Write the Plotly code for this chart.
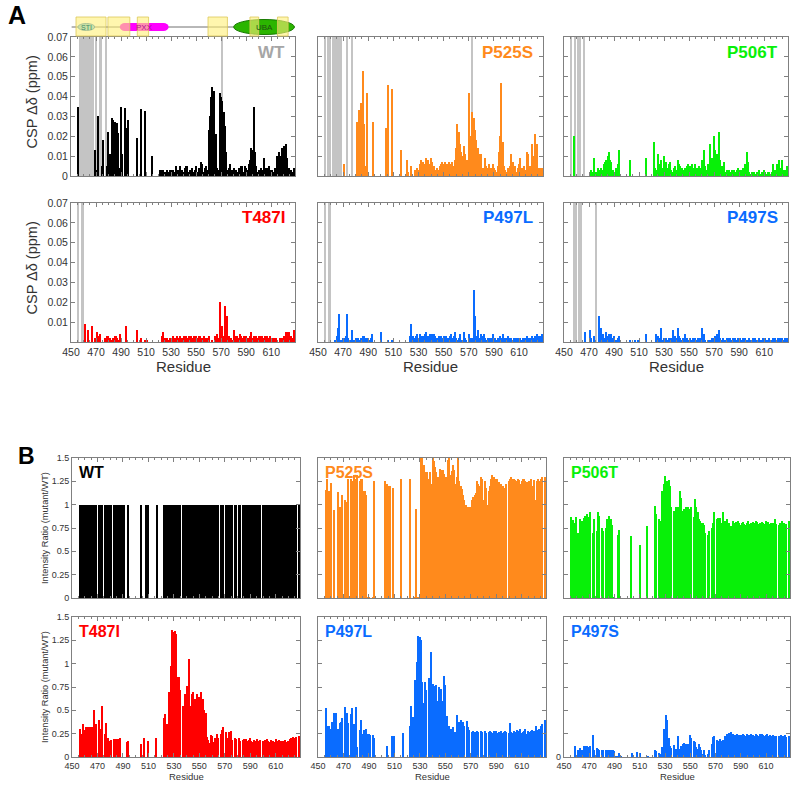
import plotly.graph_objects as go

# ---------------- data ----------------
residues = list(range(456, 629))  # 173 residues

# Panel A: chemical shift perturbation (ppm)
csp_wt = [
    0.035, 0, 0, 0, 0, 0, 0, 0, 0, 0,
    0, 0, 0, 0.013, 0, 0.003, 0.030, 0, 0, 0.005,
    0.018, 0, 0, 0.005, 0.022, 0.011, 0, 0.029, 0.028, 0.027,
    0.026, 0.0265, 0.0215, 0.004, 0.035, 0.011, 0, 0.034, 0.024, 0,
    0.028, 0, 0, 0, 0, 0, 0, 0.019, 0, 0,
    0.0335, 0, 0, 0.0325, 0, 0, 0, 0, 0, 0.010,
    0, 0, 0, 0, 0, 0.003, 0.003, 0.002, 0.003, 0.002,
    0.001, 0.003, 0.002, 0.003, 0.003, 0.002, 0.003, 0.002, 0.005, 0.002,
    0.003, 0.005, 0.002, 0.003, 0.002, 0.004, 0.005, 0.005, 0.002, 0.003,
    0.003, 0.004, 0.002, 0.003, 0.005, 0.002, 0.004, 0.003, 0.007, 0.006,
    0.002, 0.004, 0.005, 0.003, 0.023, 0.030, 0.040, 0.045, 0.043, 0.013,
    0.021, 0.004, 0.003, 0.042, 0.040, 0.038, 0.032, 0.025, 0.012, 0.003,
    0.004, 0.006, 0.002, 0.003, 0.004, 0.002, 0.003, 0.002, 0.004, 0.003,
    0.005, 0.005, 0.002, 0.005, 0.004, 0.003, 0.006, 0.008, 0.014, 0.013,
    0.035, 0.012, 0.005, 0.002, 0.003, 0.002, 0.004, 0.003, 0.009, 0.004,
    0.002, 0.004, 0.005, 0.003, 0.002, 0.003, 0.002, 0.004, 0.003, 0.010,
    0.012, 0.008, 0.010, 0.014, 0.015, 0.009, 0.016, 0.009, 0.004, 0.002,
    0.003, 0.002, 0.004,
]
csp_p525s = [
    0, 0, 0, 0, 0, 0, 0, 0, 0, 0,
    0, 0, 0, 0, 0, 0.006, 0, 0, 0, 0,
    0, 0, 0, 0, 0, 0.027, 0.015, 0.033, 0.037, 0.037,
    0.053, 0.026, 0.005, 0.042, 0, 0, 0, 0, 0.027, 0,
    0, 0, 0, 0, 0, 0, 0, 0, 0.024, 0,
    0.046, 0, 0, 0.044, 0, 0, 0, 0, 0, 0,
    0.013, 0, 0, 0, 0, 0.008, 0.002, 0, 0.005, 0,
    0, 0.003, 0, 0.004, 0.003, 0.006, 0.008, 0.005, 0.007, 0.006,
    0.009, 0.007, 0.008, 0.006, 0.009, 0.007, 0.005, 0.003, 0.002, 0.004,
    0.003, 0.005, 0.006, 0.007, 0.006, 0.007, 0.005, 0.006, 0.007, 0.004,
    0.006, 0.007, 0.005, 0.008, 0.014, 0.026, 0.022, 0.016, 0.012, 0.010,
    0.015, 0.011, 0.006, 0.008, 0.042, 0.020, 0.020, 0.032, 0.029, 0.023,
    0.018, 0.014, 0.011, 0.009, 0.011, 0.004, 0.003, 0.009, 0.005, 0.004,
    0.006, 0.003, 0.004, 0.006, 0.004, 0.003, 0.002, 0.005, 0.012, 0.020,
    0.047, 0.017, 0.005, 0.003, 0.002, 0.004, 0.003, 0.005, 0.011, 0.007,
    0.003, 0.005, 0.002, 0.004, 0.006, 0.009, 0.004, 0.002, 0.005, 0.003,
    0.012, 0.011, 0.003, 0.005, 0.016, 0.010, 0.005, 0.021, 0.016, 0.004,
    0.003, 0.004, 0.004,
]
csp_p506t = [
    0, 0, 0.020, 0, 0, 0, 0, 0, 0, 0,
    0, 0, 0, 0, 0, 0.002, 0.003, 0.002, 0.009, 0.001,
    0.002, 0.004, 0.003, 0.001, 0.004, 0.003, 0.006, 0.007, 0.008, 0.010,
    0.012, 0.008, 0.007, 0.003, 0.002, 0, 0.004, 0.006, 0.013, 0,
    0, 0, 0, 0, 0, 0, 0, 0.008, 0, 0,
    0, 0, 0, 0, 0, 0, 0, 0, 0, 0,
    0.009, 0, 0, 0, 0, 0, 0.017, 0.004, 0.003, 0.011,
    0.005, 0.006, 0.008, 0.004, 0.010, 0.005, 0.007, 0.004, 0.006, 0.007,
    0.003, 0.002, 0.004, 0.005, 0.003, 0.008, 0.006, 0.005, 0.004, 0.003,
    0.003, 0.004, 0.005, 0.006, 0.004, 0.005, 0.006, 0.004, 0.003, 0.006,
    0.004, 0.003, 0.005, 0.004, 0.008, 0.006, 0.013, 0.005, 0.003, 0.006,
    0.006, 0.016, 0.009, 0.007, 0.020, 0.013, 0.011, 0.009, 0.022, 0.008,
    0.005, 0.004, 0.007, 0.002, 0.003, 0.002, 0.003, 0.002, 0.003, 0.002,
    0.003, 0.002, 0.003, 0.004, 0.002, 0.003, 0.003, 0.004, 0.004, 0.006,
    0.012, 0.007, 0.002, 0.001, 0.002, 0.001, 0.002, 0.001, 0.002, 0.002,
    0.003, 0.001, 0.002, 0.002, 0.003, 0.002, 0.001, 0.002, 0.002, 0.001,
    0.002, 0.006, 0.002, 0.003, 0.006, 0.002, 0.008, 0.004, 0.008, 0.003,
    0.002, 0.003, 0.005,
]
csp_t487i = [
    0, 0, 0, 0, 0, 0.009, 0, 0, 0.006, 0,
    0, 0.008, 0, 0.002, 0, 0.005, 0.003, 0.004, 0, 0,
    0, 0.002, 0.002, 0.003, 0.003, 0.002, 0, 0.001, 0.002, 0.003,
    0.003, 0.002, 0.001, 0.004, 0, 0, 0, 0, 0.008, 0,
    0, 0, 0, 0, 0, 0, 0, 0.006, 0, 0,
    0.002, 0, 0, 0.001, 0, 0.001, 0, 0, 0, 0,
    0, 0, 0, 0, 0, 0, 0, 0.003, 0.005, 0.002,
    0.002, 0.002, 0.001, 0.002, 0.002, 0.002, 0.003, 0.002, 0.002, 0.003,
    0.002, 0.003, 0.002, 0.002, 0.003, 0.002, 0.003, 0.002, 0.003, 0.002,
    0.003, 0.002, 0.003, 0.002, 0.003, 0.002, 0.003, 0.003, 0.002, 0.002,
    0.003, 0.002, 0, 0.002, 0.003, 0, 0, 0.001, 0, 0.003,
    0, 0.004, 0.002, 0.020, 0.002, 0.008, 0.003, 0.018, 0.003, 0.013,
    0.003, 0, 0.002, 0.001, 0.006, 0.002, 0.003, 0.003, 0.002, 0.004,
    0.003, 0.002, 0.003, 0.002, 0.003, 0.002, 0.002, 0.003, 0.005, 0.002,
    0.003, 0.002, 0.003, 0.002, 0.003, 0.002, 0.003, 0.003, 0.002, 0.003,
    0.002, 0.003, 0.002, 0.003, 0.002, 0.002, 0.002, 0.001, 0.002, 0.001,
    0, 0.002, 0.001, 0.002, 0.003, 0.003, 0.005, 0.005, 0.005, 0.002,
    0.003, 0.002, 0.006,
]
csp_p497l = [
    0, 0, 0, 0, 0, 0, 0, 0, 0.001, 0.003,
    0.007, 0.014, 0.001, 0, 0.002, 0.002, 0.003, 0.014, 0.002, 0,
    0.001, 0.006, 0, 0.001, 0.002, 0.001, 0.002, 0.001, 0.002, 0.002,
    0.003, 0.003, 0.002, 0.001, 0.002, 0.001, 0.002, 0.004, 0, 0,
    0, 0, 0, 0, 0.005, 0, 0, 0, 0, 0,
    0.001, 0, 0, 0.001, 0, 0, 0, 0, 0, 0,
    0, 0, 0, 0, 0, 0, 0, 0.003, 0.009, 0.002,
    0.003, 0.002, 0.003, 0.004, 0.002, 0.004, 0.003, 0.002, 0.003, 0.004,
    0.005, 0.002, 0.003, 0.004, 0.002, 0.004, 0.004, 0.003, 0.002, 0.002,
    0.003, 0.002, 0.003, 0.002, 0.003, 0.002, 0.003, 0.002, 0.002, 0.003,
    0.004, 0.002, 0.003, 0.005, 0.002, 0.001, 0.002, 0.004, 0.001, 0,
    0.005, 0.002, 0.001, 0, 0.004, 0.002, 0.001, 0.002, 0.026, 0.013,
    0.003, 0.006, 0.002, 0.001, 0.004, 0.003, 0.004, 0.002, 0.001, 0.002,
    0.001, 0.002, 0.002, 0.004, 0.002, 0.002, 0.001, 0.002, 0.002, 0.003,
    0.002, 0.004, 0.002, 0.001, 0.002, 0.003, 0.002, 0.001, 0.002, 0.001,
    0.002, 0.001, 0.002, 0.002, 0.001, 0.002, 0.001, 0.002, 0.001, 0.002,
    0.003, 0.001, 0.002, 0.002, 0.003, 0.001, 0.002, 0.003, 0.004, 0.003,
    0.002, 0.003, 0.004,
]
csp_p497s = [
    0, 0, 0, 0, 0, 0, 0, 0, 0, 0,
    0, 0.005, 0, 0, 0, 0.006, 0.002, 0, 0.003, 0,
    0, 0, 0.013, 0, 0.007, 0.004, 0.002, 0.002, 0.005, 0.003,
    0.004, 0.003, 0.004, 0.002, 0.003, 0.001, 0.001, 0.002, 0.003, 0,
    0, 0, 0, 0, 0, 0, 0, 0.001, 0, 0,
    0, 0.001, 0, 0.001, 0, 0, 0, 0, 0, 0,
    0.004, 0, 0, 0, 0, 0, 0, 0, 0.004, 0.003,
    0, 0.002, 0.007, 0.001, 0.002, 0.001, 0.002, 0.001, 0.002, 0.001,
    0.002, 0.006, 0.002, 0.003, 0.002, 0.007, 0.003, 0.002, 0.001, 0.002,
    0.002, 0.004, 0.002, 0.001, 0.001, 0.002, 0.001, 0.002, 0.001, 0.002,
    0.001, 0.002, 0.001, 0.002, 0.007, 0.003, 0.004, 0.001, 0, 0,
    0.001, 0.001, 0.002, 0.001, 0.002, 0.003, 0.004, 0.002, 0.006, 0.002,
    0.001, 0.002, 0.001, 0.001, 0.002, 0.001, 0.002, 0.002, 0.001, 0.002,
    0.001, 0.002, 0.001, 0.002, 0.001, 0.002, 0.001, 0.002, 0.001, 0.002,
    0.001, 0.001, 0.002, 0.001, 0.001, 0.002, 0.001, 0.002, 0.001, 0.001,
    0.002, 0.001, 0.001, 0.002, 0.001, 0.002, 0.001, 0.001, 0.002, 0.001,
    0.001, 0.002, 0.001, 0.002, 0.001, 0.002, 0.001, 0.002, 0.002, 0.001,
    0.001, 0.002, 0.002,
]

# residues drawn as full-height grey bars (unassigned / broadened)
gray_wt = [457, 459, 460, 461, 463, 464, 465, 466, 467, 468, 470, 473, 474, 478, 571]
gray_p525s = [456, 458, 459, 460, 462, 463, 464, 465, 466, 467, 468, 473, 477, 573]
gray_p506t = [456, 459, 461, 463, 466]
gray_t487i = [456, 459, 460]
gray_p497l = [456, 459, 460]
gray_p497s = [458, 460, 462, 464, 476]
CSP_FULL = 0.07

# Panel B: intensity ratio (mutant/WT)
ratio_wt = [
    1, 1, 0, 1, 1, 1, 0, 1, 1, 0,
    1, 1, 1, 1, 0, 1, 0, 1, 1, 0,
    1, 1, 1, 0, 1, 1, 0, 1, 1, 1,
    1, 1, 1, 1, 1, 1, 0, 0, 1, 0,
    0, 0, 0, 0, 0, 0, 0, 0, 1, 0,
    0, 0, 1, 0, 1, 0, 0, 0, 0, 0,
    0, 1, 0, 0, 0, 0, 1, 1, 0, 1,
    1, 0, 1, 1, 1, 1, 1, 1, 1, 1,
    0, 1, 0, 1, 1, 0, 1, 1, 1, 1,
    0, 1, 1, 1, 1, 1, 0, 1, 1, 1,
    1, 1, 1, 1, 1, 1, 1, 0, 1, 1,
    0, 1, 1, 1, 0, 1, 1, 1, 1, 1,
    1, 0, 1, 1, 0, 1, 1, 0, 1, 1,
    1, 1, 1, 1, 1, 1, 1, 1, 1, 1,
    1, 1, 1, 0, 1, 1, 1, 1, 1, 1,
    1, 1, 1, 1, 1, 1, 1, 1, 1, 1,
    1, 1, 1, 0, 1, 1, 1, 1, 1, 1,
    1, 0, 1,
]
ratio_p525s = [
    1.16, 1.28, 0, 1.15, 1.23, 0, 0, 0.94, 0, 0,
    1.14, 0.97, 0.93, 1.10, 0, 1.05, 0, 1.03, 1.28, 0,
    1.28, 1.25, 1.32, 0, 1.27, 1.32, 0, 1.25, 1.28, 1.27,
    1.15, 1.15, 1.10, 0.01, 0.01, 0, 0, 0.01, 1.25, 0,
    0, 0, 0, 0, 0, 0, 0, 1.25, 1.22, 0,
    1.20, 1.20, 0, 1.18, 0, 0, 0, 0, 0, 1.28,
    0, 0, 0, 0, 0, 0, 1.28, 0, 0, 0,
    0.01, 0.95, 0.01, 0.01, 0.01, 1.50, 1.50, 1.42, 1.35, 1.33,
    1.35, 1.28, 1.35, 1.22, 1.50, 1.47, 1.40, 1.35, 1.30, 1.22,
    1.38, 1.37, 1.37, 1.33, 1.30, 1.30, 1.48, 1.50, 1.32, 1.36,
    1.42, 1.37, 1.22, 1.30, 1.50, 1.25, 1.20, 1.17, 1.10, 1.05,
    1.00, 0.98, 0.98, 0.98, 0.98, 1.05, 1.08, 1.10, 1.12, 1.25,
    1.22, 1.20, 1.30, 1.27, 1.05, 1.25, 1.18, 1.00, 1.15, 1.20,
    1.28, 1.32, 1.30, 1.27, 1.25, 1.27, 1.24, 1.20, 1.22, 1.20,
    1.18, 1.15, 1.22, 0, 1.25, 1.28, 1.30, 1.27, 1.28, 1.26,
    1.25, 1.28, 1.26, 1.22, 1.25, 1.27, 1.28, 1.25, 1.24, 1.22,
    1.25, 1.27, 1.20, 0, 1.26, 1.05, 1.25, 1.27, 1.25, 1.28,
    1.30, 0, 1.30,
]
ratio_p506t = [
    0.87, 0.84, 0, 0.80, 0.87, 0.70, 0, 0.85, 0.82, 0,
    0.86, 0.88, 0.90, 0.87, 0, 0.92, 0, 0.70, 0.85, 0,
    0.72, 0.92, 0.88, 0, 0.75, 0.72, 0, 0.75, 0.85, 0.80,
    0.88, 0.85, 0.78, 0.01, 0.01, 0, 0, 0.68, 0.73, 0,
    0, 0, 0, 0, 0, 0, 0, 0.66, 0, 0,
    0, 0, 0, 0, 0.57, 0, 0, 0, 0, 0,
    0.77, 0, 0, 0, 0, 0, 0.99, 0.90, 0, 0.85,
    0.83, 0, 1.15, 1.22, 1.31, 1.23, 1.25, 1.26, 1.20, 0.98,
    0, 0.93, 0, 0.98, 0.97, 0, 1.15, 1.07, 0.93, 0.95,
    0, 0.97, 0.97, 0.93, 0.95, 0.97, 0, 0.87, 1.06, 0.98,
    0.92, 0.85, 0.83, 0.80, 0.80, 0.78, 0.70, 0, 0.68, 0.72,
    0, 0.75, 0.80, 0.92, 0, 0.85, 0.86, 0.84, 0.86, 0.80,
    0.92, 0, 0.83, 0.85, 0, 0.80, 0.77, 0, 0.82, 0.80,
    0.81, 0.79, 0.82, 0.80, 0.78, 0.80, 0.81, 0.79, 0.78, 0.80,
    0.82, 0.79, 0.80, 0, 0.81, 0.80, 0.82, 0.81, 0.79, 0.80,
    0.78, 0.81, 0.80, 0.79, 0.82, 0.80, 0.81, 0.79, 0.80, 0.77,
    0.80, 0.85, 0.79, 0, 0.78, 0.80, 0.79, 0.82, 0.80, 0.78,
    0.79, 0, 0.83,
]
ratio_t487i = [
    0.30, 0.25, 0, 0.35, 0.29, 0.32, 0, 0.32, 0.32, 0,
    0.32, 0.50, 0.32, 0.35, 0, 0.40, 0, 0.30, 0.55, 0,
    0.25, 0.36, 0.20, 0, 0.17, 0.18, 0, 0.19, 0.18, 0.19,
    0.19, 0.05, 0.20, 0, 0, 0, 0, 0.16, 0.17, 0.01,
    0, 0, 0, 0, 0, 0, 0, 0, 0.14, 0,
    0, 0.20, 0, 0, 0.17, 0, 0, 0, 0, 0,
    0.20, 0, 0, 0, 0, 0, 0.42, 0.46, 0, 0.35,
    0.70, 0, 0.97, 1.36, 1.34, 1.35, 1.32, 0.86, 0.86, 0.72,
    0, 0.55, 0, 0.67, 0.76, 0, 1.05, 0.55, 0.67, 0.70,
    0, 0.62, 0.68, 0.60, 0.64, 0.70, 0, 0.62, 0.50, 0.47,
    0.21, 0.18, 0.15, 0.24, 0.22, 0.16, 0.20, 0, 0.25, 0.20,
    0, 0.25, 0.29, 0.32, 0, 0.27, 0.20, 0.27, 0.25, 0.28,
    0.18, 0, 0.20, 0.19, 0, 0.20, 0.17, 0, 0.18, 0.19,
    0.18, 0.19, 0.17, 0.18, 0.20, 0.17, 0.16, 0.18, 0.17, 0.19,
    0.16, 0.17, 0.18, 0, 0.17, 0.16, 0.18, 0.19, 0.17, 0.16,
    0.18, 0.16, 0.17, 0.16, 0.19, 0.17, 0.16, 0.18, 0.17, 0.16,
    0.17, 0.18, 0.16, 0, 0.17, 0.19, 0.20, 0.18, 0.21, 0.20,
    0.21, 0, 0.22,
]
ratio_p497l = [
    0.53, 0.33, 0, 0.33, 0.30, 0.38, 0, 0.47, 0.47, 0,
    0.30, 0.36, 0.38, 0.42, 0, 0.54, 0, 0.47, 0.36, 0,
    0.46, 0.52, 0.35, 0, 0.54, 0.11, 0, 0.29, 0.40, 0.25,
    0.29, 0.29, 0.30, 0.25, 0.25, 0.24, 0, 0.24, 0.20, 0.01,
    0, 0, 0, 0, 0, 0, 0, 0, 0.12, 0,
    0, 0, 0.22, 0, 0.23, 0, 0, 0, 0, 0,
    0, 0.26, 0, 0, 0, 0, 0.33, 0.55, 0, 0.43,
    0.83, 0, 1.02, 1.30, 1.29, 1.25, 0.80, 0.58, 0.80, 0.72,
    0, 0.85, 0, 1.13, 0.78, 0, 0.76, 0.77, 0.60, 0.75,
    0, 0.73, 0.60, 0.87, 0.77, 0.44, 0, 0.33, 0.30, 0.30,
    0.32, 0.20, 0.27, 0.45, 0.35, 0.37, 0.40, 0, 0.37, 0.33,
    0, 0.39, 0.32, 0.29, 0, 0.27, 0.28, 0.27, 0.26, 0.28,
    0.27, 0, 0.28, 0.27, 0, 0.28, 0.26, 0, 0.27, 0.28,
    0.27, 0.26, 0.28, 0.27, 0.28, 0.26, 0.27, 0.27, 0.28, 0.26,
    0.27, 0.28, 0.27, 0, 0.26, 0.36, 0.27, 0.26, 0.28, 0.27,
    0.29, 0.27, 0.28, 0.30, 0.26, 0.27, 0.28, 0.30, 0.25, 0.28,
    0.27, 0.28, 0.29, 0, 0.28, 0.33, 0.28, 0.29, 0.30, 0.33,
    0.35, 0, 0.40,
]
ratio_p497s = [
    0, 0, 0, 0.12, 0, 0.07, 0, 0.10, 0.07, 0,
    0.12, 0.12, 0.12, 0.11, 0, 0.12, 0, 0.24, 0.08, 0,
    0.10, 0.09, 0.08, 0, 0.08, 0.07, 0, 0.07, 0.08, 0.07,
    0.07, 0.08, 0.07, 0.08, 0.06, 0.01, 0, 0.01, 0.04, 0.01,
    0, 0, 0, 0, 0, 0, 0, 0, 0.04, 0,
    0, 0, 0.05, 0, 0.04, 0, 0, 0, 0, 0,
    0, 0.01, 0, 0, 0, 0, 0.07, 0.06, 0, 0.04,
    0.03, 0, 0.11, 0.30, 0.28, 0.45, 0.40, 0.20, 0.12, 0.10,
    0, 0.13, 0, 0.09, 0.22, 0, 0.09, 0.12, 0.14, 0.15,
    0, 0.14, 0.14, 0.13, 0.24, 0.20, 0, 0.17, 0.16, 0.11,
    0.09, 0.14, 0.11, 0.08, 0.03, 0.07, 0.02, 0, 0.03, 0.07,
    0, 0.14, 0.21, 0.22, 0, 0.18, 0.17, 0.16, 0.19, 0.17,
    0.18, 0, 0.22, 0.25, 0, 0.26, 0.27, 0, 0.25, 0.24,
    0.24, 0.25, 0.23, 0.24, 0.24, 0.23, 0.25, 0.24, 0.23, 0.25,
    0.23, 0.24, 0.25, 0, 0.24, 0.23, 0.25, 0.24, 0.23, 0.25,
    0.24, 0.25, 0.24, 0.23, 0.24, 0.25, 0.23, 0.24, 0.22, 0.23,
    0.24, 0.23, 0.22, 0, 0.23, 0.22, 0.24, 0.22, 0.23, 0.24,
    0.21, 0, 0.22,
]

# tick labels
x_tick_vals = [450, 470, 490, 510, 530, 550, 570, 590, 610]
x_tick_text = ["450", "470", "490", "510", "530", "550", "570", "590", "610"]
csp_tick_vals = [0, 0.01, 0.02, 0.03, 0.04, 0.05, 0.06, 0.07]
csp_tick_text_top = ["0", "0.01", "0.02", "0.03", "0.04", "0.05", "0.06", "0.07"]
csp_tick_text_bottom = ["", "0.01", "0.02", "0.03", "0.04", "0.05", "0.06", "0.07"]
ratio_tick_vals = [0, 0.25, 0.5, 0.75, 1, 1.25, 1.5]
ratio_tick_text = ["0", "0.25", "0.5", "0.75", "1", "1.25", "1.5"]

# domain schematic (residue numbers)
domain_names = ["STI", "PXX", "UBA"]
domain_start = [455.5, 489, 580]
domain_end = [469, 528, 628.5]
highlight_start = [454, 479.5, 503, 559.5, 593, 615]
highlight_end = [478, 497, 512, 575, 600, 623.5]

# ---------------- style ----------------
FONT = "Liberation Sans, Arial, Helvetica, sans-serif"
W, H = 800, 786
ORANGE = "#ff8a1c"
GREEN = "#08f008"
RED = "#ff0000"
BLUE = "#0a6cff"
GRAY_BAR = "#c4c4c4"
AX = "#808080"

def dx(a, b):
    return [a / W, b / W]

def dy(top, bottom):
    return [1 - bottom / H, 1 - top / H]

colsA = [(71, 295), (318, 543), (564, 788)]
rowsA = [(37, 176), (203, 342)]
colsB = [(72, 300), (318, 546), (564, 790)]
rowsB = [(458, 598), (617, 757)]

panels = [
    # name, values, gray, color, label color, section, row, col
    ("WT", csp_wt, gray_wt, "#000000", "#a6a6a6", "A", 0, 0),
    ("P525S", csp_p525s, gray_p525s, ORANGE, ORANGE, "A", 0, 1),
    ("P506T", csp_p506t, gray_p506t, GREEN, GREEN, "A", 0, 2),
    ("T487I", csp_t487i, gray_t487i, RED, RED, "A", 1, 0),
    ("P497L", csp_p497l, gray_p497l, BLUE, BLUE, "A", 1, 1),
    ("P497S", csp_p497s, gray_p497s, BLUE, BLUE, "A", 1, 2),
    ("WT", ratio_wt, None, "#000000", "#000000", "B", 0, 0),
    ("P525S", ratio_p525s, None, ORANGE, ORANGE, "B", 0, 1),
    ("P506T", ratio_p506t, None, GREEN, GREEN, "B", 0, 2),
    ("T487I", ratio_t487i, None, RED, RED, "B", 1, 0),
    ("P497L", ratio_p497l, None, BLUE, BLUE, "B", 1, 1),
    ("P497S", ratio_p497s, None, BLUE, BLUE, "B", 1, 2),
]

fig = go.Figure()
layout = dict(
    width=W, height=H, autosize=False,
    margin=dict(l=0, r=0, t=0, b=0, pad=0, autoexpand=False),
    paper_bgcolor="white", plot_bgcolor="white", showlegend=False,
    barmode="overlay", bargap=0, font=dict(family=FONT, color="#222"),
)
annotations = []
shapes = []

for i, (name, vals, gray, color, lcolor, sec, r, c) in enumerate(panels, start=1):
    xa, ya = "x%d" % i, "y%d" % i
    if sec == "A":
        cx, ry = colsA[c], rowsA[r]
        yr = [0, 0.07]
        tv = csp_tick_vals
        tt = csp_tick_text_top if r == 0 else csp_tick_text_bottom
        tfs = 10.5
    else:
        cx, ry = colsB[c], rowsB[r]
        yr = [0, 1.5]
        tv = ratio_tick_vals
        tt = ratio_tick_text
        tfs = 9
    if gray:
        fig.add_trace(go.Bar(x=gray, y=[CSP_FULL] * len(gray), width=1,
                             marker=dict(color=GRAY_BAR, line=dict(width=0)),
                             xaxis=xa, yaxis=ya, hoverinfo="skip"))
    fig.add_trace(go.Bar(x=residues, y=vals, width=1,
                         marker=dict(color=color, line=dict(width=0)),
                         xaxis=xa, yaxis=ya))
    layout["xaxis%d" % i] = dict(
        domain=dx(*cx), anchor=ya, range=[450, 629], automargin=False,
        showline=True, mirror="ticks", linecolor=AX, linewidth=1,
        ticks="inside", ticklen=4, tickcolor=AX, tickwidth=1,
        tickvals=x_tick_vals, ticktext=x_tick_text,
        showticklabels=(r == 1),
        tickfont=dict(size=10.5 if sec == "A" else 9, color="#333", family=FONT),
        minor=dict(ticks="inside", ticklen=2, tickcolor=AX, dtick=5, tick0=450, showgrid=False),
        showgrid=False, zeroline=False, fixedrange=True,
    )
    layout["yaxis%d" % i] = dict(
        domain=dy(*ry), anchor=xa, range=yr, automargin=False,
        showline=True, mirror="ticks", linecolor=AX, linewidth=1,
        ticks="inside", ticklen=4, tickcolor=AX, tickwidth=1,
        tickvals=tv, ticktext=tt, showticklabels=(c == 0),
        tickfont=dict(size=tfs, color="#333", family=FONT),
        showgrid=False, zeroline=False, fixedrange=True,
    )
    # panel names
    if sec == "A":
        annotations.append(dict(text="<b>%s</b>" % name, xref="paper", yref="paper",
                                x=(cx[1] - 8) / W, y=1 - (ry[0] + 15) / H,
                                xanchor="right", yanchor="middle", showarrow=False,
                                font=dict(size=17, color=lcolor, family=FONT)))
    else:
        annotations.append(dict(text="<b>%s</b>" % name, xref="paper", yref="paper",
                                x=(cx[0] + 5) / W, y=1 - (ry[0] + 14) / H,
                                xanchor="left", yanchor="middle", showarrow=False,
                                font=dict(size=16, color=lcolor, family=FONT)))
    # x titles
    if r == 1:
        annotations.append(dict(text="Residue", xref="paper", yref="paper",
                                x=(cx[0] + cx[1]) / 2 / W,
                                y=1 - ((ry[1] + 24) if sec == "A" else (ry[1] + 19)) / H,
                                xanchor="center", yanchor="middle", showarrow=False,
                                font=dict(size=15 if sec == "A" else 9.5, color="#333", family=FONT)))
    # y titles
    if c == 0:
        if sec == "A":
            annotations.append(dict(text="CSP Δδ (ppm)", xref="paper", yref="paper",
                                    x=32 / W, y=1 - ((ry[0] + ry[1]) / 2 - 4) / H, textangle=-90,
                                    xanchor="center", yanchor="middle", showarrow=False,
                                    font=dict(size=14.5, color="#333", family=FONT)))
        else:
            annotations.append(dict(text="Intensity Ratio (mutant/WT)", xref="paper", yref="paper",
                                    x=45 / W, y=1 - ((ry[0] + ry[1]) / 2) / H, textangle=-90,
                                    xanchor="center", yanchor="middle", showarrow=False,
                                    font=dict(size=9.2, color="#333", family=FONT)))

# stray zero tick label on P497S (B)
annotations.append(dict(text="0", xref="paper", yref="paper", x=558 / W, y=1 - 757 / H,
                        xanchor="center", yanchor="middle", showarrow=False,
                        font=dict(size=9, color="#333", family=FONT)))
# section letters
annotations.append(dict(text="<b>A</b>", xref="paper", yref="paper", x=6 / W, y=1 - 15 / H,
                        xanchor="left", yanchor="middle", showarrow=False,
                        font=dict(size=25, color="#000", family=FONT)))
annotations.append(dict(text="<b>B</b>", xref="paper", yref="paper", x=16 / W, y=1 - 456 / H,
                        xanchor="left", yanchor="middle", showarrow=False,
                        font=dict(size=23, color="#000", family=FONT)))

# domain schematic above panel A WT
def py(p):
    return 1 - p / H

shapes.append(dict(type="line", xref="x1", yref="paper", x0=450.5, x1=629, y0=py(27), y1=py(27),
                   line=dict(color="#707070", width=1)))
# STI
shapes.append(dict(type="circle", xref="x1", yref="paper", x0=domain_start[0], x1=domain_end[0],
                   y0=py(30.5), y1=py(23.5), fillcolor="#7ccbe8", line=dict(color="#2f7fc0", width=1)))
# PXX (rounded bar)
shapes.append(dict(type="circle", xref="x1", yref="paper", x0=domain_start[1], x1=domain_start[1] + 8,
                   y0=py(31), y1=py(23), fillcolor="#ff00ff", line=dict(width=0)))
shapes.append(dict(type="circle", xref="x1", yref="paper", x0=domain_end[1] - 8, x1=domain_end[1],
                   y0=py(31), y1=py(23), fillcolor="#ff00ff", line=dict(width=0)))
shapes.append(dict(type="rect", xref="x1", yref="paper", x0=domain_start[1] + 4, x1=domain_end[1] - 4,
                   y0=py(31), y1=py(23), fillcolor="#ff00ff", line=dict(width=0)))
# UBA
shapes.append(dict(type="circle", xref="x1", yref="paper", x0=domain_start[2], x1=domain_end[2],
                   y0=py(34.5), y1=py(19.5), fillcolor="#2bb500", line=dict(color="#187a00", width=1)))
# highlighted regions
for s, e in zip(highlight_start, highlight_end):
    shapes.append(dict(type="rect", xref="x1", yref="paper", x0=s, x1=e, y0=py(36), y1=py(17),
                       fillcolor="rgba(255,240,120,0.6)", line=dict(color="rgba(220,200,90,0.8)", width=1)))
for nm, s, e, col, fs in zip(domain_names, domain_start, domain_end,
                             ["#3f8a6a", "#b01090", "#205010"], [7, 8, 8]):
    annotations.append(dict(text=nm, xref="x1", yref="paper", x=(s + e) / 2, y=py(27),
                            xanchor="center", yanchor="middle", showarrow=False,
                            font=dict(size=fs, color=col, family=FONT)))

layout["annotations"] = annotations
layout["shapes"] = shapes
fig.update_layout(**layout)
fig.write_html("out.html", config={"responsive": False, "displayModeBar": False},
               post_script="document.body.style.margin='0px';document.body.style.padding='0px';")
